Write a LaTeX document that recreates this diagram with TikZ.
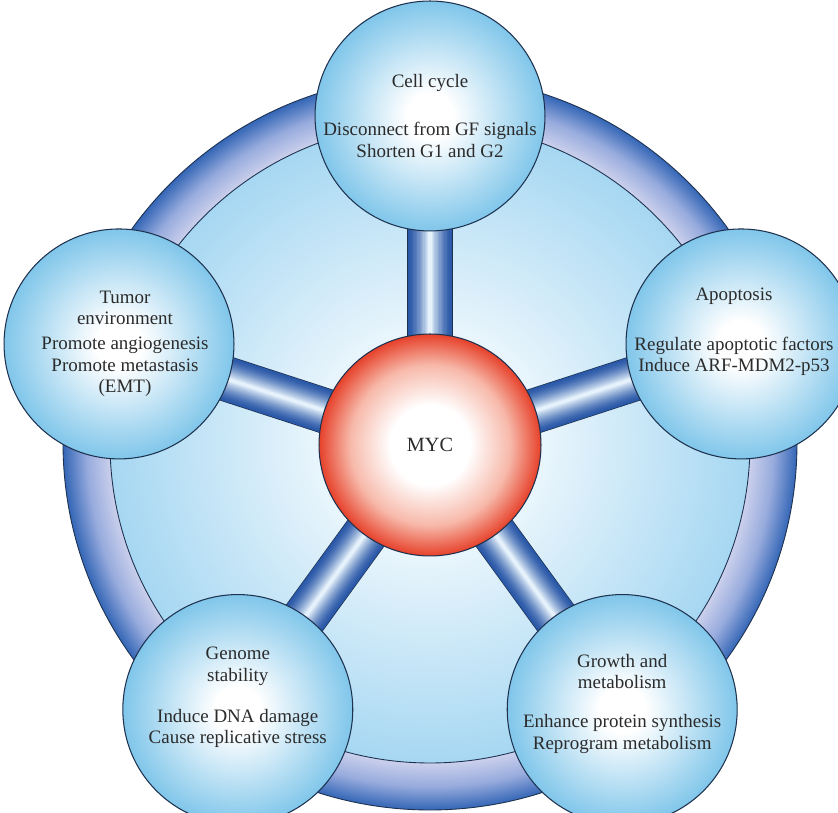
\documentclass[tikz,border=0pt]{standalone}
\usepackage{fontspec}
\setmainfont{Liberation Serif}
\usepackage{tikz}
\definecolor{ringDark}{HTML}{3466B6}
\definecolor{ringMid}{HTML}{97ABDD}
\definecolor{ringLight}{HTML}{CBD0EC}
\definecolor{discPale}{HTML}{E8F5FC}
\definecolor{discBlue}{HTML}{A6D7F2}
\definecolor{satBlue}{HTML}{80C6EA}
\definecolor{mycRed}{HTML}{E6412A}
\definecolor{mycPink}{HTML}{F7B9AA}
\definecolor{tubeDark}{HTML}{2A58A8}
\definecolor{tubeLight}{HTML}{E6F2FB}
\definecolor{edgeNavy}{HTML}{1E324F}
\definecolor{textGray}{HTML}{2B2B2B}
\pgfdeclareradialshading{ringshade}{\pgfpoint{0bp}{0bp}}{color(0bp)=(ringLight); color(21.8bp)=(ringLight); color(23.4bp)=(ringMid); color(25bp)=(ringDark); color(50bp)=(ringDark)}
\pgfdeclareradialshading{discshade}{\pgfpoint{0bp}{0bp}}{color(0bp)=(white); color(9bp)=(discPale); color(25bp)=(discBlue); color(50bp)=(discBlue)}
\pgfdeclareradialshading{satball}{\pgfpoint{0bp}{0bp}}{color(0bp)=(white); color(5bp)=(white); color(25bp)=(satBlue); color(50bp)=(satBlue)}
\pgfdeclareradialshading{mycball}{\pgfpoint{0bp}{0bp}}{color(0bp)=(white); color(9bp)=(white); color(18bp)=(mycPink); color(25bp)=(mycRed); color(50bp)=(mycRed)}
\pgfdeclarelayer{ringlayer}
\pgfdeclarelayer{tubelayer}
\pgfsetlayers{ringlayer,tubelayer,main}

\begin{document}
\begin{tikzpicture}[x=0.02cm,y=0.02cm,
  sat/.style={circle,minimum size=4.6cm,inner sep=0pt,draw=edgeNavy,line width=0.6pt,shading=satball},
  sattext/.style={align=center,text=textGray,inner sep=0pt,font=\fontsize{10.8}{12.2}\selectfont}]
\useasboundingbox (0,0) rectangle (838,813);
\coordinate (mid) at (430,368);
% outer ring and the disc inside it
\begin{pgfonlayer}{ringlayer}
\shade[shading=ringshade] (430,370) circle[radius=367];
\draw[edgeNavy,line width=0.5pt] (430,370) circle[radius=367];
\shade[shading=discshade] (430,370) circle[radius=320];
\draw[edgeNavy,line width=0.5pt] (430,370) circle[radius=320];
\end{pgfonlayer}
\node[circle,minimum size=4.44cm,inner sep=0pt,draw=edgeNavy,line width=0.6pt,shading=mycball,
  text=textGray,font=\fontsize{11.5}{13}\selectfont] (myc) at (mid) {MYC};
\node[sat] (cell) at ([shift={(90:329)}]mid) {};
\node[sat] (apop) at ([shift={(18:327)}]mid) {};
\node[sat] (tumor) at ([shift={(162:327)}]mid) {};
\node[sat] (genome) at ([shift={(234:327)}]mid) {};
\node[sat] (growth) at ([shift={(306:327)}]mid) {};
\node[sattext] (celltxt) at (cell) {Cell cycle\\[15pt]Disconnect from GF signals\\Shorten G1 and G2};
\node[sattext] (apoptxt) at ([yshift=0.24cm,xshift=-0.14cm]apop) {Apoptosis\\[16pt]Regulate apoptotic factors\\Induce ARF-MDM2-p53};
\node[sattext] (tumortxt) at ([xshift=0.12cm]tumor) {Tumor\\environment\\[2pt]Promote angiogenesis\\Promote metastasis\\(EMT)};
\node[sattext] (genometxt) at ([yshift=0.24cm]genome) {Genome\\stability\\[11pt]Induce DNA damage\\Cause replicative stress};
\node[sattext] (growthtxt) at ([yshift=0.12cm]growth) {Growth and\\metabolism\\[10pt]Enhance protein synthesis\\Reprogram metabolism};
% tubes from MYC to each circle
\begin{pgfonlayer}{tubelayer}
\foreach \s in {cell,apop,tumor,genome,growth}{
  \draw[edgeNavy,line width=25.8pt] (myc.center) -- (\s.center);
  \foreach \i in {0,...,16}{
    \pgfmathsetmacro\w{25-1.45*\i}
    \pgfmathtruncatemacro\m{100*(\i/16)^1.4}
    \draw[tubeLight!\m!tubeDark,line width=\w pt] (myc.center) -- (\s.center);
  }
}
\end{pgfonlayer}
\end{tikzpicture}
\end{document}
